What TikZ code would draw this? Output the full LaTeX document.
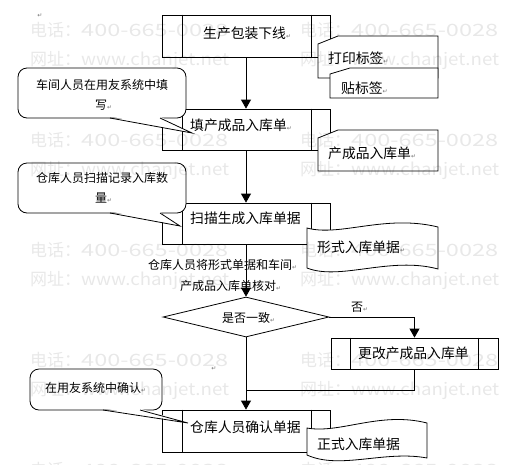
\documentclass[tikz,border=0pt]{standalone}
\usepackage{fontspec}
\setmainfont{Noto Sans CJK SC}
\newfontfamily\dvfont{DejaVu Sans}
\usetikzlibrary{arrows.meta,shapes.geometric}
\newcommand\retmark{{\dvfont\fontsize{6}{6}\selectfont\textcolor{black!55}{↵}}}
\newcommand\wmtel{电话：\resizebox{147pt}{\height}{400-665-0028}}
\newcommand\wmweb{网址：\resizebox{148pt}{\height}{www.chanjet.net}}
\tikzset{
  procbox/.style={draw, line width=0.8pt, inner sep=0pt, fill=white},
  arr/.style={line width=0.8pt, -{Triangle[width=10pt,length=9pt]}},
  plain/.style={line width=0.8pt},
  shp/.style={draw, line width=0.8pt, fill=white},
  btxt/.style={font=\fontsize{13.8}{14}\selectfont, inner sep=0pt, anchor=west},
  stxt/.style={font=\fontsize{12}{12}\selectfont, inner sep=0pt, anchor=west},
  wm/.style={font=\fontsize{17}{17}\selectfont, text=black, text opacity=0.09, inner sep=0pt, anchor=west},
}
\begin{document}
\begin{tikzpicture}[x=1pt,y=-1pt]
\useasboundingbox (0,0) rectangle (505,464);
% process boxes
\node[procbox, minimum width=168pt, minimum height=42pt] (b1) at (246,36) {};
\node[procbox, minimum width=168pt, minimum height=41pt] (b2) at (246,129.5) {};
\node[procbox, minimum width=168pt, minimum height=41pt] (b3) at (246,223.5) {};
\node[procbox, minimum width=168pt, minimum height=42pt] (b4) at (246,431) {};
\node[procbox, minimum width=167pt, minimum height=31pt] (b5) at (414.5,353.5) {};
\foreach \b in {b1,b2,b3,b4}{
  \draw[plain] ([xshift=21pt]\b.north west) -- ([xshift=21pt]\b.south west);
  \draw[plain] ([xshift=-19pt]\b.north east) -- ([xshift=-19pt]\b.south east);
}
\draw[plain] ([xshift=20pt]b5.north west) -- ([xshift=20pt]b5.south west);
\draw[plain] ([xshift=-20pt]b5.north east) -- ([xshift=-20pt]b5.south east);
% decision
\node[draw, diamond, line width=0.8pt, inner sep=0pt, minimum width=166pt, minimum height=40pt] (dia) at (246,317) {};
\coordinate (j) at (246,390);
% connectors
\draw[arr] (b1.south) -- (b2.north);
\draw[arr] (b2.south) -- (b3.north);
\draw[arr] (b3.south) -- (dia.north);
\draw[arr] (dia.east) -| (b5.north);
\draw[arr] (dia.south) -- (b4.north);
\draw[plain] (b5.south) |- (j);
% cards
\draw[shp] (318,44) -- (338,36) -- (438,36) -- (438,78) -- (318,78) -- cycle;
\draw[shp] (330,74) -- (350,68) -- (438,68) -- (438,98) -- (330,98) -- cycle;
\draw[shp] (318,138) -- (338,130) -- (438,130) -- (438,171) -- (318,171) -- cycle;
% documents
\draw[shp] (307,228) .. controls (340,237) and (385,214) .. (438,227)
  -- (438,269) .. controls (390,256) and (340,281) .. (307,268) -- cycle;
\draw[shp] (307,428) .. controls (340,434) and (380,411) .. (427,423)
  -- (427,458) .. controls (385,450) and (340,470) .. (307,455) -- cycle;
% callouts
\draw[shp, rounded corners=9pt] (18,68) rectangle (186,118);
\fill[white] (110.6,116.4) -- (192,133) -- (159.4,116.4) -- cycle;
\draw[plain] (110,118) -- (192,133) -- (160,118);
\draw[shp, rounded corners=9pt] (18,163) rectangle (186,213);
\fill[white] (110.6,211.4) -- (180,226) -- (159.4,211.4) -- cycle;
\draw[plain] (110,213) -- (180,226) -- (160,213);
\draw[shp, rounded corners=9pt] (30,369) rectangle (162,410);
\fill[white] (103.6,408.4) -- (188,423) -- (139.4,408.4) -- cycle;
\draw[plain] (103,410) -- (188,423) -- (140,410);
% texts
\node[btxt] (t1) at (203,33) {生产包装下线\retmark};
\node[btxt] (t2) at (328,58) {打印标签\retmark};
\node[btxt] (t3) at (341,88) {贴标签\retmark};
\node[stxt] (t4) at (36,85) {车间人员在用友系统中填};
\node[stxt] (t5) at (95,105) {写\retmark};
\node[btxt] (t6) at (190,125) {填产成品入库单\retmark};
\node[btxt] (t7) at (328,153) {产成品入库单\retmark};
\node[stxt] (t8) at (36,178) {仓库人员扫描记录入库数};
\node[stxt] (t9) at (95,198) {量\retmark};
\node[btxt] (t10) at (190,218) {扫描生成入库单据};
\node[btxt] (t11) at (317,247) {形式入库单据\retmark};
\node[stxt] (t12) at (148,265) {仓库人员将形式单据和车间\retmark};
\node[stxt] (t13) at (180,286) {产成品入库单核对\retmark};
\node[stxt] (t14) at (222,318) {是否一致\retmark};
\node[stxt] (t15) at (351,307) {否\retmark};
\node[btxt] (t16) at (358,353) {更改产成品入库单};
\node[stxt] (t17) at (45,388) {在用友系统中确认\retmark};
\node[btxt] (t18) at (190,427) {仓库人员确认单据};
\node[btxt] (t19) at (317,444) {正式入库单据};
\node[inner sep=0pt] (r1) at (40,16) {\retmark};
\node[inner sep=0pt] (r2) at (214,369) {\retmark};
% watermarks
\foreach \y [count=\i] in {30,140,250,360,470}{
  \node[wm] (wa\i) at (30,\y) {\wmtel};
  \node[wm] (wb\i) at (300,\y) {\wmtel};
}
\foreach \y [count=\i] in {60,170,280,390}{
  \node[wm] (wc\i) at (30,\y) {\wmweb};
  \node[wm] (wd\i) at (300,\y) {\wmweb};
}
\end{tikzpicture}
\end{document}
